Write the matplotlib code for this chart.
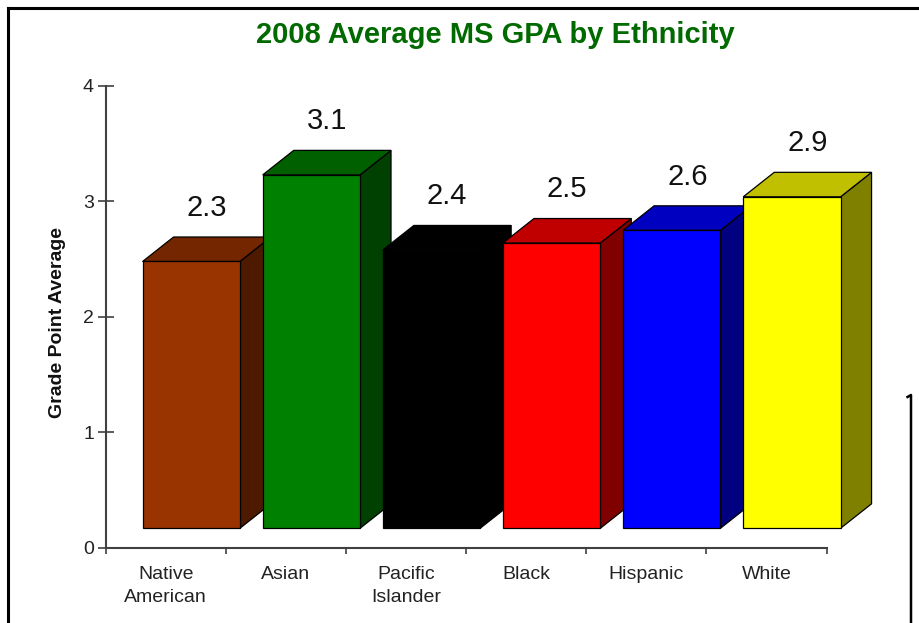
import matplotlib
matplotlib.use('Agg')
import numpy as np
import matplotlib.pyplot as plt
from matplotlib.patches import Polygon
from matplotlib.lines import Line2D

# ---- data ----
categories = ['Native\nAmerican', 'Asian', 'Pacific\nIslander', 'Black', 'Hispanic', 'White']
gpa = [2.31, 3.06, 2.41, 2.47, 2.58, 2.87]
y_ticks = [0, 1, 2, 3, 4]
title = '2008 Average MS GPA by Ethnicity'
y_label = 'Grade Point Average'

front_colors = ['#993300', '#008000', '#000000', '#FF0000', '#0000FF', '#FFFF00']
top_colors = ['#742600', '#006000', '#000000', '#C00000', '#0000C0', '#C0C000']
side_colors = ['#4D1A00', '#004000', '#000000', '#800000', '#000080', '#808000']

plt.rcParams['font.family'] = ['Liberation Sans', 'DejaVu Sans']

W, H = 920, 623
fig = plt.figure(figsize=(W / 100, H / 100), dpi=100)
fig.patch.set_facecolor('white')

ax = fig.add_axes([105.7 / W, 1 - 547.7 / H, (826.5 - 105.7) / W, (547.7 - 85.7) / H])
ax.set_xlim(-0.5, 5.5)
ax.set_ylim(0, 4)

# 3-D look parameters (style)
base = 0.168     # floor of the front faces
shift = 0.212    # front face offset from category centre
width = 0.81
ddx = 0.258      # depth in x (data units)
ddy = 0.212      # depth in y (data units)
edge_lw = 0.9

x = np.arange(len(categories))
bars = ax.bar(x + shift, gpa, width=width, bottom=base, color=front_colors,
              edgecolor='black', linewidth=edge_lw)
for i, b in enumerate(bars):
    z = 3 + i * 3
    b.set_zorder(z + 2)
    b.set_clip_on(False)
    x0 = b.get_x()
    x1 = x0 + b.get_width()
    y0 = b.get_y()
    y1 = y0 + b.get_height()
    side = Polygon([(x1, y0), (x1 + ddx, y0 + ddy), (x1 + ddx, y1 + ddy), (x1, y1)],
                   closed=True, fc=side_colors[i], ec='black', lw=edge_lw, zorder=z, clip_on=False)
    top = Polygon([(x0, y1), (x0 + ddx, y1 + ddy), (x1 + ddx, y1 + ddy), (x1, y1)],
                  closed=True, fc=top_colors[i], ec='black', lw=edge_lw, zorder=z + 1, clip_on=False)
    ax.add_patch(side)
    ax.add_patch(top)
    ax.annotate(f'{gpa[i]:.1f}', xy=(x0 + (b.get_width() + ddx) / 2, y1 + ddy),
                xytext=(0, 11), textcoords='offset points', ha='center', va='bottom',
                fontsize=21, color='#111111', zorder=30, annotation_clip=False)

# axes styling
for s in ['top', 'right']:
    ax.spines[s].set_visible(False)
for s in ['left', 'bottom']:
    ax.spines[s].set_color('#404040')
    ax.spines[s].set_linewidth(1.5)
    ax.spines[s].set_zorder(40)

ax.set_yticks(y_ticks)
ax.set_yticklabels([str(t) for t in y_ticks])
ax.tick_params(axis='y', direction='inout', length=11, width=1.2, color='#404040',
               labelsize=14, labelcolor='#222222', pad=3)

ax.set_xticks(x)
ax.set_xticklabels(categories, linespacing=1.5)
ax.tick_params(axis='x', which='major', length=0, labelsize=14, labelcolor='#222222', pad=13)
ax.set_xticks(np.arange(-0.5, len(categories), 1.0), minor=True)
ax.tick_params(axis='x', which='minor', direction='out', length=4.5, width=1.2, color='#404040')

fig.text(495 / W, 1 - 35 / H, title, ha='center', va='center', fontsize=21,
         fontweight='bold', color='#006A00')
fig.text(58 / W, 1 - 322 / H, y_label, ha='center', va='center', rotation=90,
         fontsize=14, fontweight='bold', color='#111111')

# outer frame lines
fig.add_artist(Line2D([8.3 / W, 1.0], [1 - 8.3 / H, 1 - 8.3 / H], transform=fig.transFigure,
                      color='black', lw=2.2))
fig.add_artist(Line2D([8.3 / W, 8.3 / W], [1 - 8.3 / H, 0.0], transform=fig.transFigure,
                      color='black', lw=2.2))
fig.add_artist(Line2D([907.5 / W, 911 / W, 911 / W], [1 - 397 / H, 1 - 395 / H, 0.0],
                      transform=fig.transFigure, color='black', lw=1.8))

fig.savefig('out.png', dpi=100)
